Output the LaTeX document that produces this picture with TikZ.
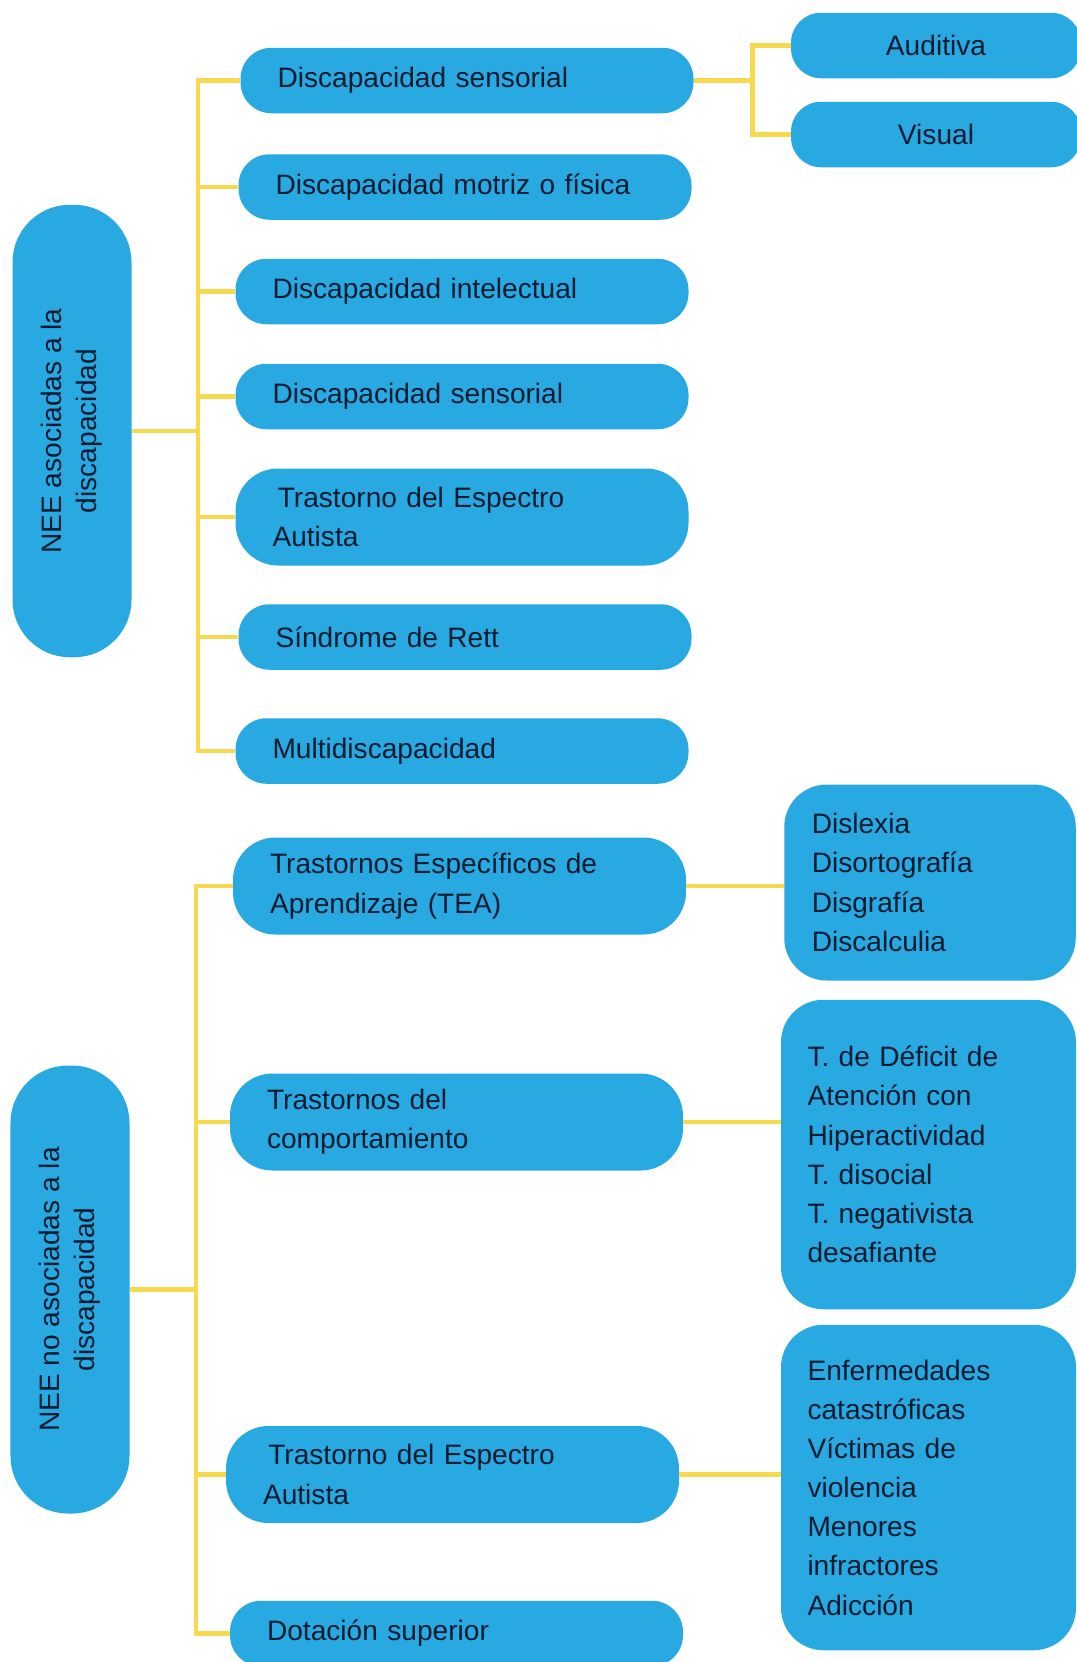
\documentclass[tikz,border=0pt]{standalone}
\usepackage{fontspec}
\setmainfont{Liberation Sans}
\usepackage{tikz}
\definecolor{boxblue}{RGB}{41,169,225}
\definecolor{lineyellow}{RGB}{248,217,78}
\definecolor{textnavy}{RGB}{12,28,48}

\begin{document}
\begin{tikzpicture}
	\tikzstyle{mid}=[fill=boxblue,text=textnavy,rounded corners=0.62cm,minimum height=1.31cm,text width=7.58cm,inner xsep=0.74cm,align=left,font=\fontsize{16}{22.3}\selectfont]
	\tikzstyle{midtall}=[mid,rounded corners=0.85cm,minimum height=1.94cm]
	\tikzstyle{side}=[fill=boxblue,text=textnavy,rounded corners=0.85cm,font=\fontsize{16}{22.3}\selectfont]
	\tikzstyle{root}=[fill=boxblue,text=textnavy,rounded corners=1.15cm,rotate=90,minimum height=2.38cm,align=center,font=\fontsize{16}{19.8}\selectfont]
	\tikzstyle{link}=[draw=lineyellow,line width=2.8pt]
	
	\useasboundingbox (0,0) rectangle (21.52,-33.24);
	
	\node[root,minimum width=9.05cm](nee1) at (1.44,-8.62){NEE asociadas a la\\discapacidad};
	\node[root,minimum width=8.96cm](nee2) at (1.40,-25.79){NEE no asociadas a la\\discapacidad};
	
	\node[mid](s1) at (9.34,-1.61){Discapacidad sensorial};
	\node[mid](mot) at (9.30,-3.74){Discapacidad motriz o física};
	\node[mid](int) at (9.24,-5.83){Discapacidad intelectual};
	\node[mid](s2) at (9.24,-7.93){Discapacidad sensorial};
	\node[midtall](tea1) at (9.24,-10.34){\hspace*{3pt}Trastorno del Espectro\\Autista};
	\node[mid](rett) at (9.30,-12.74){Síndrome de Rett};
	\node[mid](multi) at (9.24,-15.02){Multidiscapacidad};
	
	\node[midtall](tap) at (9.19,-17.72){Trastornos Específicos de\\Aprendizaje (TEA)};
	\node[midtall](comp) at (9.13,-22.44){Trastornos del\\comportamiento};
	\node[midtall](tea2) at (9.05,-29.49){\hspace*{3pt}Trastorno del Espectro\\Autista};
	\node[mid](dot) at (9.13,-32.67){Dotación superior};
	
	\node[side,rounded corners=0.6cm,minimum width=5.8cm,minimum height=1.31cm,align=center](aud) at (18.72,-0.91){Auditiva};
	\node[side,rounded corners=0.6cm,minimum width=5.8cm,minimum height=1.31cm,align=center](vis) at (18.72,-2.69){Visual};
	
	\node[side,minimum height=3.92cm,text width=4.73cm,inner xsep=0.55cm,align=left](dis) at (18.60,-17.65){Dislexia\\Disortografía\\Disgrafía\\Discalculia};
	\node[side,minimum height=6.19cm,text width=4.84cm,inner xsep=0.53cm,align=left](tdah) at (18.57,-23.09){T. de Déficit de\\Atención con\\Hiperactividad\\T. disocial\\T. negativista\\desafiante};
	\node[side,minimum height=6.51cm,text width=4.84cm,inner xsep=0.53cm,align=left](enf) at (18.57,-29.75){Enfermedades\\catastróficas\\Víctimas de\\violencia\\Menores\\infractores\\Adicción};
	
	\coordinate (t1) at (3.96,-8.62);
	\coordinate (t2) at (3.92,-25.79);
	\coordinate (j1) at (15.05,-1.61);
	
	\draw[link] (nee1.south) -- (t1);
	\draw[link] (t1) |- (s1.west);
	\draw[link] (t1) |- (mot.west);
	\draw[link] (t1) |- (int.west);
	\draw[link] (t1) |- (s2.west);
	\draw[link] (t1) |- (tea1.west);
	\draw[link] (t1) |- (rett.west);
	\draw[link] (t1) |- (multi.west);
	
	\draw[link] (s1.east) -- (j1);
	\draw[link] (j1) |- (aud.west);
	\draw[link] (j1) |- (vis.west);
	
	\draw[link] (nee2.south) -- (t2);
	\draw[link] (t2) |- (tap.west);
	\draw[link] (t2) |- (comp.west);
	\draw[link] (t2) |- (tea2.west);
	\draw[link] (t2) |- (dot.west);
	
	\draw[link] (tap.east) -- (tap.east -| dis.west);
	\draw[link] (comp.east) -- (comp.east -| tdah.west);
	\draw[link] (tea2.east) -- (tea2.east -| enf.west);
\end{tikzpicture}
\end{document}
